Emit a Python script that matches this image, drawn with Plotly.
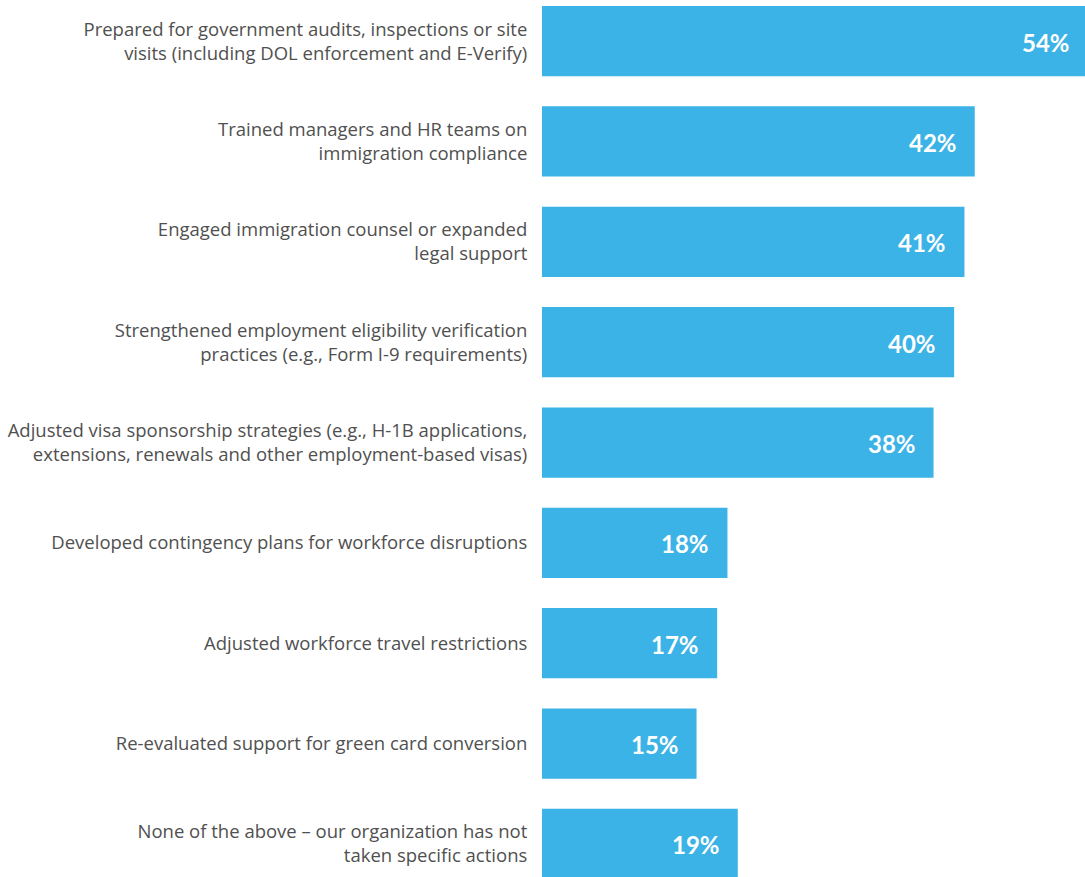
import plotly.graph_objects as go

# Survey responses: actions taken, share of organizations (%)
actions = [
    "Prepared for government audits, inspections or site<br>visits (including DOL enforcement and E-Verify)",
    "Trained managers and HR teams on<br>immigration compliance",
    "Engaged immigration counsel or expanded<br>legal support",
    "Strengthened employment eligibility verification<br>practices (e.g., Form I-9 requirements)",
    "Adjusted visa sponsorship strategies (e.g., H-1B applications,<br>extensions, renewals and other employment-based visas)",
    "Developed contingency plans for workforce disruptions",
    "Adjusted workforce travel restrictions",
    "Re-evaluated support for green card conversion",
    "None of the above \u2013 our organization has not<br>taken specific actions",
]
shares = [54, 42, 41, 40, 38, 18, 17, 15, 19]

BAR_COLOR = "#3bb3e6"
LABEL_COLOR = "#505050"
X_MAX = 52.7

fig = go.Figure(
    go.Bar(
        x=shares,
        y=actions,
        orientation="h",
        width=0.7,
        marker=dict(color=BAR_COLOR, line=dict(width=0)),
        hoverinfo="skip",
    )
)

# Value labels sit inside the right end of each bar
for act, val in zip(actions, shares):
    x_pos = min(val, X_MAX)
    fig.add_annotation(
        x=x_pos,
        y=act,
        xref="x",
        yref="y",
        text=f"<b>{val}%</b>",
        showarrow=False,
        xanchor="right",
        yanchor="middle",
        xshift=-16 if val <= X_MAX else -13,
        yshift=-1,
        font=dict(family="Lato, sans-serif", size=24, color="white"),
    )

fig.update_layout(
    width=1085,
    height=877,
    margin=dict(l=542, r=0, t=0, b=0),
    paper_bgcolor="white",
    plot_bgcolor="white",
    showlegend=False,
    xaxis=dict(
        range=[0, X_MAX],
        visible=False,
        fixedrange=True,
    ),
    yaxis=dict(
        type="category",
        categoryorder="array",
        categoryarray=actions,
        range=[8.33, -0.41],
        autorange=False,
        showgrid=False,
        zeroline=False,
        showline=False,
        ticks="outside",
        ticklen=10,
        tickcolor="rgba(0,0,0,0)",
        tickfont=dict(family="Open Sans, sans-serif", size=18.5, color=LABEL_COLOR),
        fixedrange=True,
    ),
)

fig.write_html("out.html")
